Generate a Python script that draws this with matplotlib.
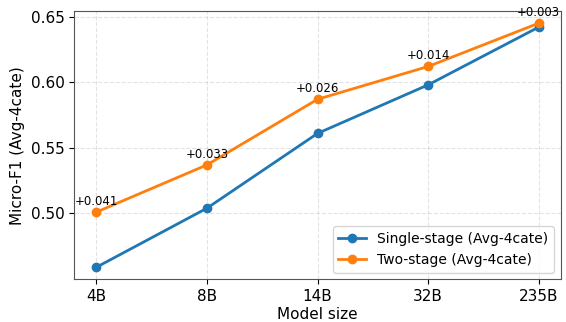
import matplotlib
matplotlib.use("Agg")
import matplotlib.pyplot as plt

models = ["4B", "8B", "14B", "32B", "235B"]
single_stage = [0.459, 0.504, 0.561, 0.598, 0.642]
two_stage = [0.501, 0.537, 0.587, 0.612, 0.645]
gains = ["+0.041", "+0.033", "+0.026", "+0.014", "+0.003"]

fig = plt.figure(figsize=(5.66, 3.22), dpi=100)
ax = fig.add_axes([0.131, 0.132, 0.860, 0.834])

x = range(len(models))
ax.plot(x, single_stage, marker="o", lw=2, ms=6, color="#1f77b4",
        label="Single-stage (Avg-4cate)")
ax.plot(x, two_stage, marker="o", lw=2, ms=6, color="#ff7f0e",
        label="Two-stage (Avg-4cate)")

for xi, y, g in zip(x, two_stage, gains):
    ax.annotate(g, (xi, y), xytext=(0, 3), textcoords="offset points",
                ha="center", va="bottom", fontsize=8.5)

ax.set_xticks(list(x))
ax.set_xticklabels(models)
ax.set_yticks([0.50, 0.55, 0.60, 0.65])
ax.tick_params(labelsize=11)
ax.set_xlabel("Model size", fontsize=11, labelpad=2)
ax.set_ylabel("Micro-F1 (Avg-4cate)", fontsize=11)
ax.grid(True, linestyle="--", alpha=0.35)
for s in ax.spines.values():
    s.set_color("#555555")
ax.legend(loc="lower right", fontsize=10)

fig.savefig("out.png", dpi=100)
